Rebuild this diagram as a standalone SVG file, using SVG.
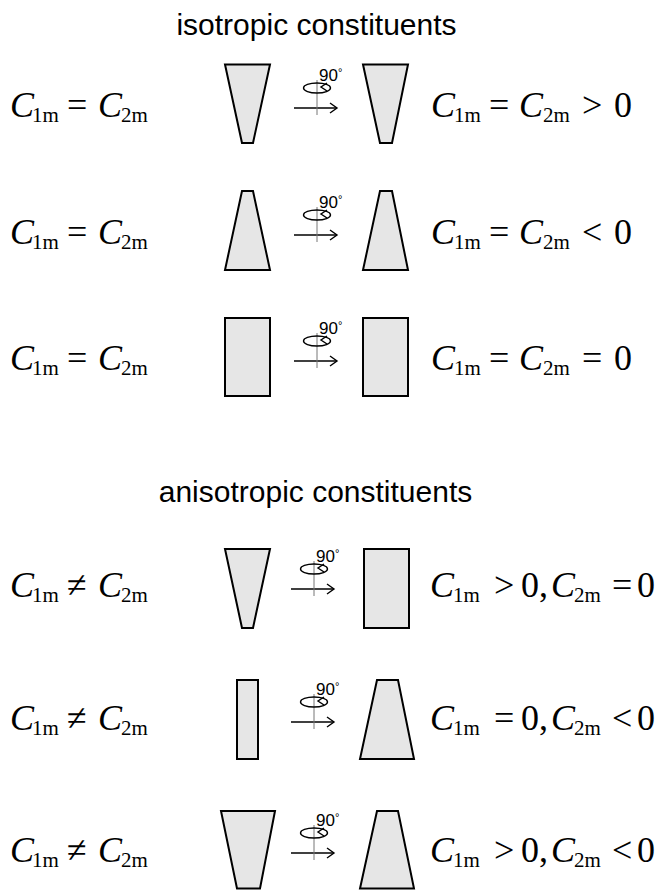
<svg xmlns="http://www.w3.org/2000/svg" width="661" height="890" viewBox="0 0 661 890">
<style>
.title{font-family:"Liberation Sans",Arial,sans-serif;font-size:30px;fill:#000}
.m{font-family:"Liberation Serif","Times New Roman",serif;font-size:36px;fill:#000}
.i{font-style:italic}
.s{font-size:21px}
.shape{fill:#e6e6e6;stroke:#000;stroke-width:2;stroke-linejoin:miter}
.deg{font-family:"Liberation Sans",Arial,sans-serif;font-size:17px;fill:#000}
.ln{fill:none;stroke:#000;stroke-width:1.4}
.ax{fill:none;stroke:#777;stroke-width:1}
</style>
<defs>
<g id="rot">
<line class="ln" x1="-23" y1="0" x2="20" y2="0"/>
<polyline class="ln" points="13,-5 20,0 13,5"/>
<line class="ax" x1="0" y1="-28" x2="0" y2="7"/>
<ellipse class="ln" cx="0" cy="-20" rx="13.5" ry="5"/>
<polyline class="ln" points="10,-25 4,-21 10,-17"/>
<text class="deg" x="2" y="-27">90<tspan font-size="11" dy="-5">°</tspan></text>
</g>
</defs>
<rect width="661" height="890" fill="#fff"/>
<text class="title" x="316.5" y="35" text-anchor="middle">isotropic constituents</text>
<text class="title" x="315.5" y="502" text-anchor="middle">anisotropic constituents</text>

<g id="row1">
<text class="m" y="117"><tspan class="i" x="10">C</tspan><tspan class="s" x="32" dy="5">1m</tspan><tspan x="67" dy="-5">=</tspan><tspan class="i" x="98">C</tspan><tspan class="s" x="121" dy="5">2m</tspan></text>
<polygon class="shape" points="225,64.5 270,64.5 253,143 242,143"/>
<polygon class="shape" points="363,64.5 408,64.5 392,143 380,143"/>
<text class="m" y="117"><tspan class="i" x="431">C</tspan><tspan class="s" x="454" dy="5">1m</tspan><tspan x="489" dy="-5">=</tspan><tspan class="i" x="519">C</tspan><tspan class="s" x="543" dy="5">2m</tspan><tspan x="582" dy="-5">&gt;</tspan><tspan x="614">0</tspan></text>
</g>

<g id="row2">
<text class="m" y="244"><tspan class="i" x="10">C</tspan><tspan class="s" x="32" dy="5">1m</tspan><tspan x="67" dy="-5">=</tspan><tspan class="i" x="98">C</tspan><tspan class="s" x="121" dy="5">2m</tspan></text>
<polygon class="shape" points="242,191 253,191 270,270 225,270"/>
<polygon class="shape" points="380,191 392,191 408,270 363,270"/>
<text class="m" y="244"><tspan class="i" x="431">C</tspan><tspan class="s" x="454" dy="5">1m</tspan><tspan x="489" dy="-5">=</tspan><tspan class="i" x="519">C</tspan><tspan class="s" x="543" dy="5">2m</tspan><tspan x="582" dy="-5">&lt;</tspan><tspan x="614">0</tspan></text>
</g>

<g id="row3">
<text class="m" y="370"><tspan class="i" x="10">C</tspan><tspan class="s" x="32" dy="5">1m</tspan><tspan x="67" dy="-5">=</tspan><tspan class="i" x="98">C</tspan><tspan class="s" x="121" dy="5">2m</tspan></text>
<rect class="shape" x="225" y="318" width="45" height="78"/>
<rect class="shape" x="363" y="318" width="45" height="78"/>
<text class="m" y="370"><tspan class="i" x="431">C</tspan><tspan class="s" x="454" dy="5">1m</tspan><tspan x="489" dy="-5">=</tspan><tspan class="i" x="519">C</tspan><tspan class="s" x="543" dy="5">2m</tspan><tspan x="582" dy="-5">=</tspan><tspan x="614">0</tspan></text>
</g>

<g id="row4">
<text class="m" y="597"><tspan class="i" x="10">C</tspan><tspan class="s" x="32" dy="5">1m</tspan><tspan x="67" dy="-5">≠</tspan><tspan class="i" x="98">C</tspan><tspan class="s" x="121" dy="5">2m</tspan></text>
<polygon class="shape" points="225,549 270,549 253,628 242,628"/>
<rect class="shape" x="364" y="549" width="45" height="79"/>
<text class="m" y="597"><tspan class="i" x="430">C</tspan><tspan class="s" x="453" dy="5">1m</tspan><tspan x="494" dy="-5">&gt;</tspan><tspan x="521">0,</tspan><tspan class="i" x="551">C</tspan><tspan class="s" x="574" dy="5">2m</tspan><tspan x="612" dy="-5">=</tspan><tspan x="637">0</tspan></text>
</g>

<g id="row5">
<text class="m" y="730"><tspan class="i" x="10">C</tspan><tspan class="s" x="32" dy="5">1m</tspan><tspan x="67" dy="-5">≠</tspan><tspan class="i" x="98">C</tspan><tspan class="s" x="121" dy="5">2m</tspan></text>
<rect class="shape" x="237" y="680" width="21" height="79"/>
<polygon class="shape" points="377,680 398,680 414,759 360,759"/>
<text class="m" y="730"><tspan class="i" x="430">C</tspan><tspan class="s" x="453" dy="5">1m</tspan><tspan x="494" dy="-5">=</tspan><tspan x="521">0,</tspan><tspan class="i" x="551">C</tspan><tspan class="s" x="574" dy="5">2m</tspan><tspan x="612" dy="-5">&lt;</tspan><tspan x="637">0</tspan></text>
</g>

<g id="row6">
<text class="m" y="862"><tspan class="i" x="10">C</tspan><tspan class="s" x="32" dy="5">1m</tspan><tspan x="67" dy="-5">≠</tspan><tspan class="i" x="98">C</tspan><tspan class="s" x="121" dy="5">2m</tspan></text>
<polygon class="shape" points="221,811 275,811 260,888.5 237,888.5"/>
<polygon class="shape" points="377,811 398,811 414,888.5 360,888.5"/>
<text class="m" y="862"><tspan class="i" x="430">C</tspan><tspan class="s" x="453" dy="5">1m</tspan><tspan x="494" dy="-5">&gt;</tspan><tspan x="521">0,</tspan><tspan class="i" x="551">C</tspan><tspan class="s" x="574" dy="5">2m</tspan><tspan x="612" dy="-5">&lt;</tspan><tspan x="637">0</tspan></text>
</g>

<g id="connectors">
<use href="#rot" x="317" y="108"/>
<use href="#rot" x="317" y="235"/>
<use href="#rot" x="317" y="361"/>
<use href="#rot" x="314" y="589"/>
<use href="#rot" x="314" y="722"/>
<use href="#rot" x="314" y="853"/>
</g>
</svg>
